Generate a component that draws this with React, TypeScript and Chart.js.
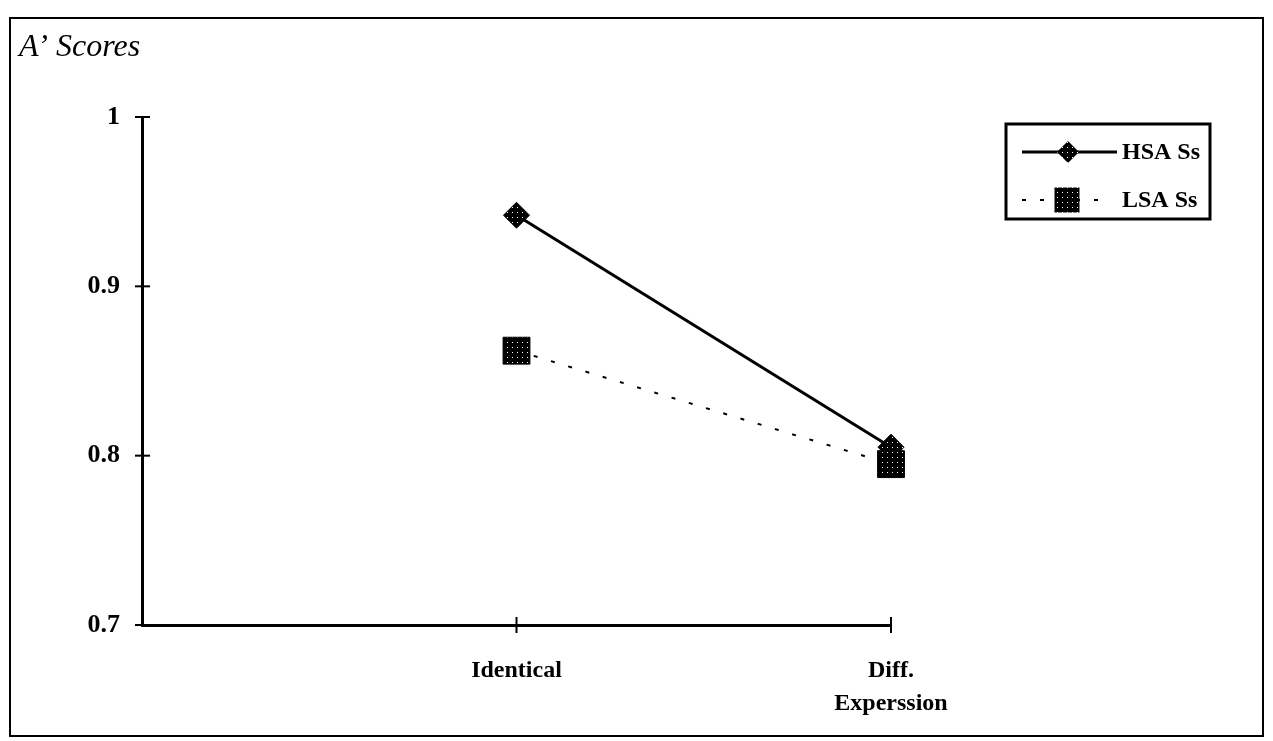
import React, { useEffect, useRef } from 'react';
import { Chart, registerables } from 'chart.js';

Chart.register(...registerables);

// ---- data ----
const categories: (string | string[])[] = ['', 'Identical', ['Diff.', 'Experssion']];
const hsaValues: (number | null)[] = [null, 0.942, 0.805];
const lsaValues: (number | null)[] = [null, 0.862, 0.795];
const yTickValues = [0.7, 0.8, 0.9, 1];
const yTickLabels = ['0.7', '0.8', '0.9', '1'];
const seriesNames = ['HSA Ss', 'LSA Ss'];
const titleText = 'A\u2019 Scores';

const SERIF = '"Liberation Serif", "Times New Roman", serif';

function makePattern(ctx: CanvasRenderingContext2D): CanvasPattern | string {
  const c = document.createElement('canvas');
  c.width = 5;
  c.height = 5;
  const g = c.getContext('2d');
  if (!g) return '#000';
  g.fillStyle = '#000';
  g.fillRect(0, 0, 5, 5);
  g.fillStyle = '#fff';
  g.fillRect(2, 2, 1, 1);
  return ctx.createPattern(c, 'repeat') || '#000';
}

const decorPlugin = {
  id: 'decor',
  afterDraw(chart: any) {
    const ctx: CanvasRenderingContext2D = chart.ctx;
    const xs = chart.scales.x;
    const ys = chart.scales.y;
    const area = chart.chartArea;
    ctx.save();
    // outer frame
    ctx.strokeStyle = '#000';
    ctx.lineWidth = 2;
    ctx.strokeRect(10, 18, 1253, 718);

    // title
    ctx.fillStyle = '#000';
    ctx.font = `italic 32px ${SERIF}`;
    ctx.textAlign = 'left';
    ctx.textBaseline = 'alphabetic';
    ctx.fillText(titleText, 19, 56);

    // crossing tick marks
    ctx.lineWidth = 2;
    for (const v of yTickValues) {
      const py = ys.getPixelForValue(v);
      ctx.beginPath();
      ctx.moveTo(area.left - 7, py);
      ctx.lineTo(area.left + 8, py);
      ctx.stroke();
    }
    for (let i = 1; i < categories.length; i++) {
      const px = xs.getPixelForValue(i);
      ctx.beginPath();
      ctx.moveTo(px, area.bottom - 8);
      ctx.lineTo(px, area.bottom + 8);
      ctx.stroke();
    }

    // legend
    const ds = chart.data.datasets;
    ctx.lineWidth = 3;
    ctx.strokeRect(1006, 124, 204, 95);
    const rows = [152, 200];
    ctx.font = `bold 24px ${SERIF}`;
    ctx.textBaseline = 'middle';
    for (let i = 0; i < ds.length; i++) {
      const y = rows[i];
      const d = ds[i];
      ctx.lineWidth = d.borderWidth;
      ctx.strokeStyle = d.borderColor;
      ctx.setLineDash(d.borderDash || []);
      ctx.beginPath();
      ctx.moveTo(1022, y);
      ctx.lineTo(i === 0 ? 1117 : 1110, y);
      ctx.stroke();
      ctx.setLineDash([]);
      ctx.fillStyle = d.pointBackgroundColor;
      ctx.beginPath();
      if (d.pointStyle === 'rectRot') {
        const r = 11;
        ctx.moveTo(1068 - r, y);
        ctx.lineTo(1068, y - r);
        ctx.lineTo(1068 + r, y);
        ctx.lineTo(1068, y + r);
        ctx.closePath();
      } else {
        const h = 12.5;
        ctx.rect(1067 - h, y - h, 2 * h, 2 * h);
      }
      ctx.fill();
      ctx.fillStyle = '#000';
      ctx.fillText(seriesNames[i], 1122, y + 1);
    }
    ctx.restore();
  },
};

export default function App() {
  const ref = useRef<HTMLCanvasElement | null>(null);

  useEffect(() => {
    const canvas = ref.current;
    if (!canvas) return;
    const ctx = canvas.getContext('2d') as CanvasRenderingContext2D;
    const pat = makePattern(ctx);

    const chart = new Chart(canvas, {
      type: 'line',
      data: {
        labels: categories as any,
        datasets: [
          {
            label: seriesNames[0],
            data: hsaValues,
            borderColor: '#000',
            borderWidth: 3,
            pointStyle: 'rectRot',
            pointRadius: 13,
            pointBackgroundColor: pat as any,
            pointBorderColor: '#000',
            pointBorderWidth: 1,
            clip: false as any,
          },
          {
            label: seriesNames[1],
            data: lsaValues,
            borderColor: '#000',
            borderWidth: 2,
            borderDash: [4, 14],
            pointStyle: 'rect',
            pointRadius: 19,
            pointBackgroundColor: pat as any,
            pointBorderColor: '#000',
            pointBorderWidth: 1,
            clip: false as any,
          },
        ],
      },
      options: {
        responsive: false,
        animation: false,
        devicePixelRatio: 1,
        layout: { padding: { left: 10, right: 382, top: 117, bottom: 26 } },
        plugins: {
          legend: { display: false },
          tooltip: { enabled: false },
          title: { display: false },
        },
        scales: {
          x: {
            type: 'category',
            offset: false,
            grid: { display: false },
            border: { display: true, color: '#000', width: 3 },
            ticks: {
              color: '#000',
              autoSkip: false,
              maxRotation: 0,
              padding: 22,
              font: { family: SERIF, weight: 'bold', size: 24, lineHeight: 1.35 },
            },
            afterFit: (s: any) => {
              s.height = 90;
            },
          },
          y: {
            type: 'linear',
            min: 0.7,
            max: 1,
            grid: { display: false },
            border: { display: true, color: '#000', width: 3 },
            afterBuildTicks: (s: any) => {
              s.ticks = yTickValues.map((v) => ({ value: v }));
            },
            ticks: {
              color: '#000',
              padding: 14,
              font: { family: SERIF, weight: 'bold', size: 26 },
              callback: (_v: any, i: number) => yTickLabels[i],
            },
            afterFit: (s: any) => {
              s.width = 132;
            },
          },
        },
      } as any,
      plugins: [decorPlugin],
    });

    return () => chart.destroy();
  }, []);

  return (
    <div style={{ position: 'absolute', left: 0, top: 0, width: 1273, height: 741, background: '#fff' }}>
      <canvas ref={ref} width={1273} height={741} style={{ width: 1273, height: 741, display: 'block' }} />
    </div>
  );
}
